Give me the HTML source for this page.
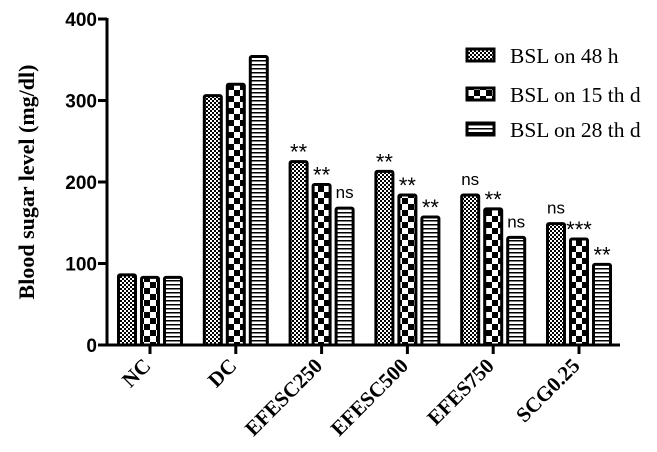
<!DOCTYPE html>
<html><head><meta charset="utf-8"><style>
html,body{margin:0;padding:0;background:#fff}
svg{display:block}
</style></head><body>
<svg id="chart" width="657" height="452" xmlns="http://www.w3.org/2000/svg">
<defs>
<pattern id="p0" width="4" height="4" patternUnits="userSpaceOnUse"><rect width="4" height="4" fill="#fff"/><rect width="2" height="2" fill="#000"/><rect x="2" y="2" width="2" height="2" fill="#000"/></pattern>
<pattern id="p1" width="12" height="12" patternUnits="userSpaceOnUse"><rect width="12" height="12" fill="#fff"/><rect width="6" height="6" fill="#000"/><rect x="6" y="6" width="6" height="6" fill="#000"/></pattern>
<pattern id="p2" width="4" height="4" patternUnits="userSpaceOnUse"><rect width="4" height="4" fill="#fff"/><rect width="4" height="1.5" fill="#000"/></pattern>
</defs>
<g id="bars"></g>
<g id="axes"></g>
<text transform="translate(34,182) rotate(-90)" text-anchor="middle" font-family="Liberation Serif, serif" font-weight="bold" font-size="22">Blood sugar level (mg/dl)</text>
<g font-family="Liberation Serif, serif" font-size="21.5">
<g><rect x="467" y="49" width="27" height="12" fill="url(#p0)" stroke="#000" stroke-width="3"/><text x="510" y="63">BSL on 48 h</text></g>
<g><rect x="467" y="88" width="27" height="12" fill="url(#p1)" stroke="#000" stroke-width="3"/><text x="510" y="102">BSL on 15 th d</text></g>
<g><rect x="467" y="123" width="27" height="12" fill="url(#p2)" stroke="#000" stroke-width="3"/><text x="510" y="137">BSL on 28 th d</text></g>
</g>
</svg>
<script>
const categories=["NC","DC","EFESC250","EFESC500","EFES750","SCG0.25"];
const s48h=[86,306,225,213,184,149];
const s15d=[83,320,197,184,167,130];
const s28d=[83,354,168,157,132,99];
const sig48h=["","","**","**","ns","ns"];
const sig15d=["","","**","**","**","***"];
const sig28d=["","","ns","**","ns","**"];
const yTicks=[0,100,200,300,400];

const NS="http://www.w3.org/2000/svg";
const y0=345,y400=19;
function yScale(v){return y0-(v/400)*(y0-y400);}
function xCenter(i){return 150+i*85.8;}
function mk(t,a,p){const e=document.createElementNS(NS,t);for(const k in a)e.setAttribute(k,a[k]);p.appendChild(e);return e;}
const bars=document.getElementById('bars'),axes=document.getElementById('axes');
const series=[s48h,s15d,s28d],sigs=[sig48h,sig15d,sig28d],pats=['p0','p1','p2'],names=['48h','15d','28d'];
categories.forEach((c,i)=>{
  series.forEach((s,j)=>{
    const cx=xCenter(i)+(j-1)*23, w=17, top=yScale(s[i]);
    const r=mk('rect',{x:cx-w/2,y:top,width:w,height:y0-top,fill:'url(#'+pats[j]+')',stroke:'#000','stroke-width':3,rx:1.5},bars);
    
    
    if(sigs[j][i]){
      const isNs=sigs[j][i]==='ns';
      const t=mk('text',{x:cx,y:top-(isNs?10:2),'text-anchor':'middle','font-family':'Liberation Sans, sans-serif','font-size':isNs?17:22},bars);
      t.textContent=sigs[j][i];
      
      
    }
  });
  const tk=mk('line',{x1:xCenter(i),x2:xCenter(i),y1:y0,y2:y0+9,stroke:'#000','stroke-width':3},axes);
  
  
  const lx=xCenter(i)+2,ly=y0+22;
  const t=mk('text',{x:lx,y:ly,transform:'rotate(-45 '+lx+' '+ly+')','text-anchor':'end','font-family':'Liberation Serif, serif','font-weight':'bold','font-size':21},axes);
  t.textContent=c;
  
  
});
const ya=mk('line',{x1:107,x2:107,y1:y400-1,y2:y0+1.5,stroke:'#000','stroke-width':3},axes);


const xa=mk('line',{x1:105.5,x2:620,y1:y0,y2:y0,stroke:'#000','stroke-width':3},axes);


yTicks.forEach(v=>{
  const y=yScale(v);
  const l=mk('line',{x1:98,x2:107,y1:y,y2:y,stroke:'#000','stroke-width':3},axes);
  
  
  const t=mk('text',{x:97,y:y+7,'text-anchor':'end','font-family':'Liberation Sans, sans-serif','font-weight':'bold','font-size':19},axes);
  t.textContent=v;
  
  
});
</script>
</body></html>
